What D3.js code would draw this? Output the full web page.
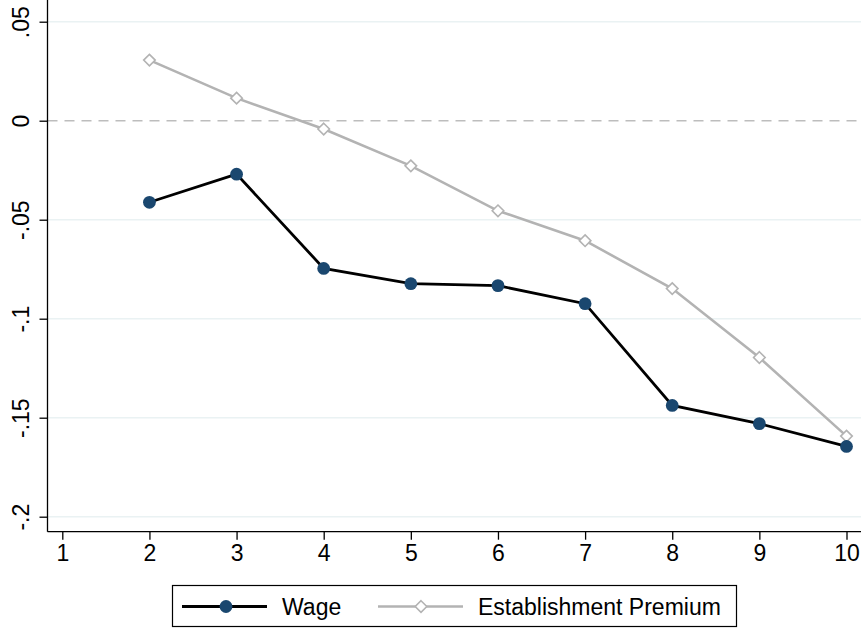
<!DOCTYPE html>
<html><head><meta charset="utf-8">
<script src="https://cdn.jsdelivr.net/npm/d3@7"></script>
<style>body{margin:0;background:#fff}svg{display:block}</style>
</head><body>
<svg id="c" width="861" height="628"></svg>
<script>
const xCats = [1,2,3,4,5,6,7,8,9,10];
const wageX = [2,3,4,5,6,7,8,9,10];
const wage = [-0.0412,-0.0270,-0.0746,-0.0823,-0.0833,-0.0924,-0.1438,-0.1530,-0.1645];
const premium = [0.0306,0.0114,-0.0042,-0.0228,-0.0455,-0.0606,-0.0848,-0.1196,-0.1593];
const yTicks = [0.05,0,-0.05,-0.1,-0.15,-0.2];
const yTickLabels = [".05","0","-.05","-.1","-.15","-.2"];
const seriesNames = ["Wage","Establishment Premium"];

const svg = d3.select("#c");
const font = "Liberation Sans, Arial, sans-serif";
const fs = 23;
const x = d3.scaleLinear().domain([1,10]).range([62.3,846.5]);
const y = d3.scaleLinear().domain([0,-0.2]).range([120.7,516.7]);
const left = 47.5, bottom = 531.7, right = 861;

// gridlines
svg.append("g").selectAll("line").data(yTicks.filter(d=>d!==0)).join("line")
  .attr("x1",left).attr("x2",right).attr("y1",d=>y(d)).attr("y2",d=>y(d))
  .attr("stroke","#eaf2f3").attr("stroke-width",1.5);
// zero line dashed
svg.append("line").attr("x1",left).attr("x2",right).attr("y1",y(0)).attr("y2",y(0))
  .attr("stroke","#bdbdbd").attr("stroke-width",1.6).attr("stroke-dasharray","10,7");

// y axis
const yAxis = d3.axisLeft(y).tickValues(yTicks).tickFormat((d,i)=>yTickLabels[i]).tickSize(8).tickPadding(0);
const gy = svg.append("g").attr("transform",`translate(${left},0)`).call(yAxis);
gy.select(".domain").attr("d",`M0,${bottom}V0`).attr("stroke","#000").attr("stroke-width",1.3);
gy.selectAll(".tick line").attr("stroke","#000").attr("stroke-width",1.3);
gy.selectAll(".tick text").attr("font-family",font).attr("font-size",fs).attr("fill","#000")
  .attr("text-anchor","middle").attr("x",null).attr("dy",null)
  .attr("transform","translate(-27,0) rotate(-90)").attr("dominant-baseline","central");

// x axis
const xAxis = d3.axisBottom(x).tickValues(xCats).tickFormat(d3.format("d")).tickSize(8).tickPadding(5);
const gx = svg.append("g").attr("transform",`translate(0,${bottom})`).call(xAxis);
gx.select(".domain").attr("d",`M${left},0H${right}`).attr("stroke","#000").attr("stroke-width",1.3);
gx.selectAll(".tick line").attr("stroke","#000").attr("stroke-width",1.3);
gx.selectAll(".tick text").attr("font-family",font).attr("font-size",fs).attr("fill","#000");

// premium line
const line = d3.line().x((d,i)=>x(wageX[i])).y(d=>y(d));
svg.append("path").datum(premium).attr("d",line).attr("fill","none").attr("stroke","#b3b3b3").attr("stroke-width",2.6);
const diamond = d3.symbol().type(d3.symbolDiamond2).size(85);
svg.append("g").selectAll("path").data(premium).join("path")
  .attr("d",diamond).attr("transform",(d,i)=>`translate(${x(wageX[i])},${y(d)})`)
  .attr("fill","#fff").attr("stroke","#b3b3b3").attr("stroke-width",1.6);

// wage line
svg.append("path").datum(wage).attr("d",line).attr("fill","none").attr("stroke","#000").attr("stroke-width",2.8);
svg.append("g").selectAll("circle").data(wage).join("circle")
  .attr("cx",(d,i)=>x(wageX[i])).attr("cy",d=>y(d)).attr("r",6.4).attr("fill","#1a476f");

// legend
const lg = svg.append("g");
lg.append("rect").attr("x",172.5).attr("y",585.5).attr("width",564).attr("height",41)
  .attr("fill","#fff").attr("stroke","#000").attr("stroke-width",1.2);
const ly = 606.5;
lg.append("line").attr("x1",182).attr("x2",267).attr("y1",ly).attr("y2",ly).attr("stroke","#000").attr("stroke-width",2.8);
lg.append("circle").attr("cx",226).attr("cy",ly).attr("r",6.4).attr("fill","#1a476f");
lg.append("text").attr("x",282).attr("y",ly).attr("dominant-baseline","central").attr("font-family",font).attr("font-size",fs).text(seriesNames[0]);
lg.append("line").attr("x1",378).attr("x2",463).attr("y1",ly).attr("y2",ly).attr("stroke","#b3b3b3").attr("stroke-width",2.6);
lg.append("path").attr("d",diamond).attr("transform",`translate(421,${ly})`).attr("fill","#fff").attr("stroke","#b3b3b3").attr("stroke-width",1.6);
lg.append("text").attr("x",478).attr("y",ly).attr("dominant-baseline","central").attr("font-family",font).attr("font-size",fs).text(seriesNames[1]);
</script>
</body></html>
